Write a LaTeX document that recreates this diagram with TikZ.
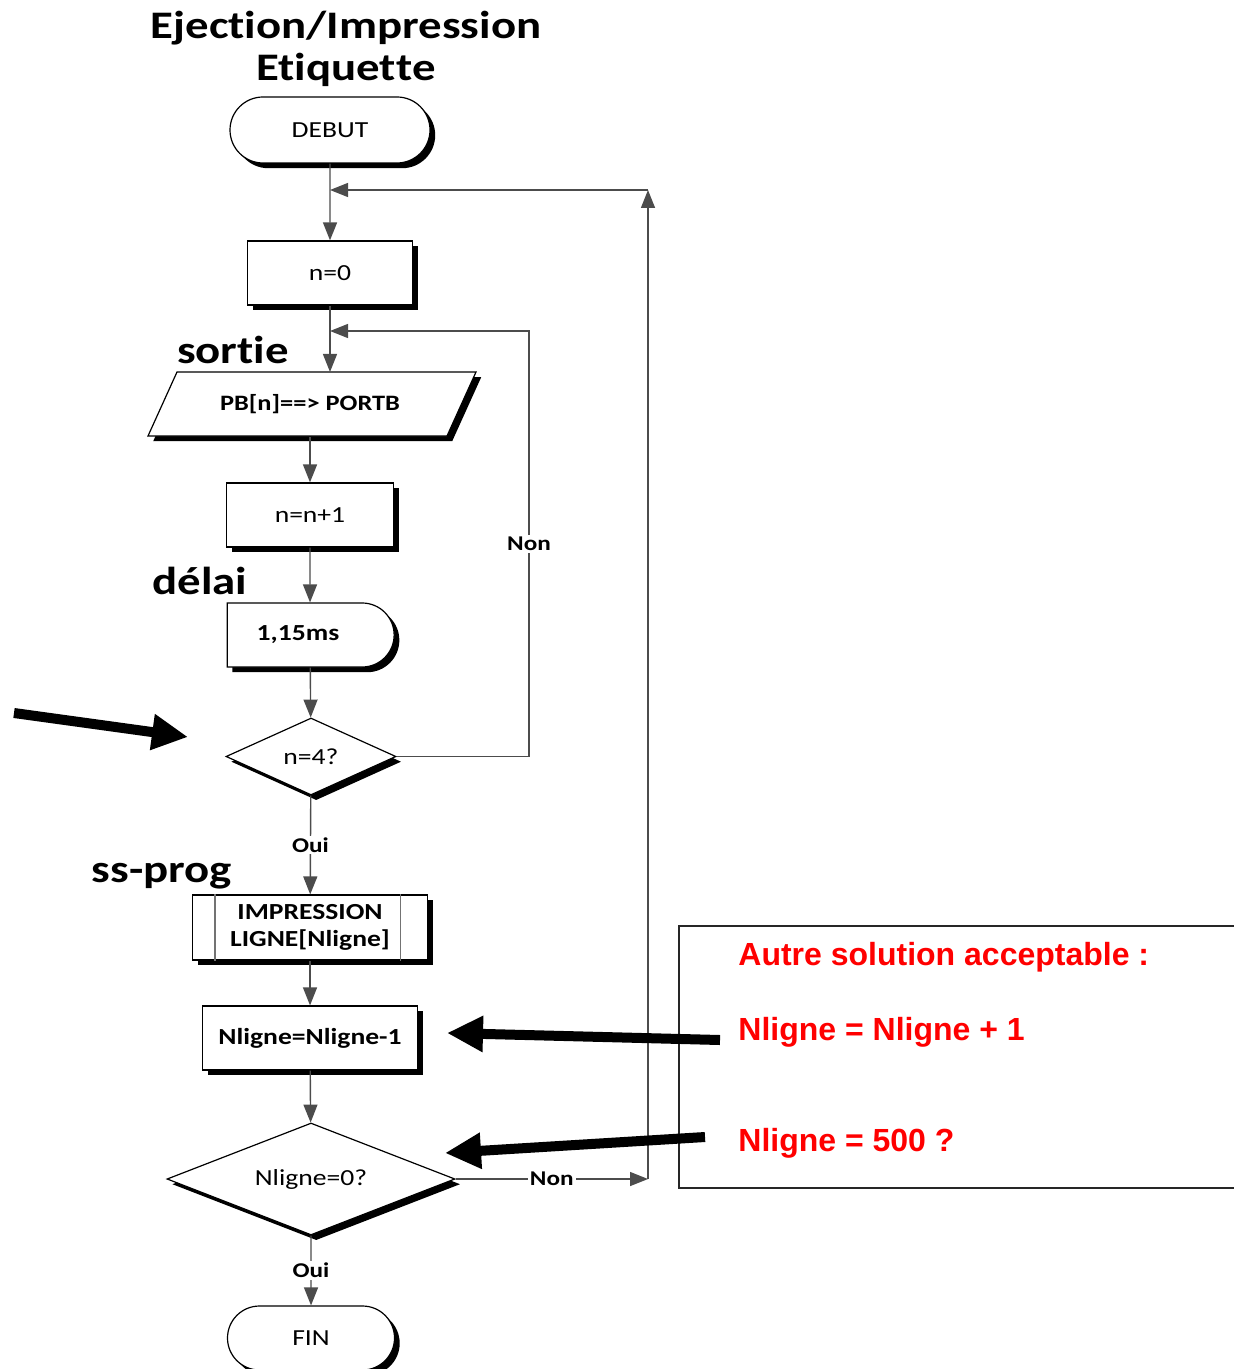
\documentclass[tikz,border=0pt]{standalone}
\usepackage{fontspec}
\setmainfont[Ligatures=NoCommon]{Carlito}
\newfontfamily\flowfont[FakeStretch=1.2,Ligatures=NoCommon]{Carlito}
\newfontfamily\redfont{Liberation Sans}
\usetikzlibrary{shapes.geometric,shapes.misc,shadows,arrows.meta}
\begin{document}
\begin{tikzpicture}[x=0.5pt,y=-0.5pt,
  shad/.style={drop shadow={shadow xshift=2.6pt,shadow yshift=-2.6pt,opacity=1,fill=black}},
  box/.style={draw=black,line width=0.6pt,fill=white,shad,inner sep=0pt,align=center,
    font=\flowfont\fontsize{11.5}{13.5}\selectfont},
  bbox/.style={box,font=\flowfont\bfseries\fontsize{11.5}{13.5}\selectfont},
  proc/.style={box,rectangle},
  term/.style={box,rounded rectangle},
  dec/.style={box,diamond},
  conn/.style={draw=black!70,line width=0.7pt,-{Triangle[length=9pt,width=7pt]}},
  flow/.style={draw=black!70,line width=0.7pt},
  lab/.style={font=\flowfont\bfseries\fontsize{19.5}{22}\selectfont},
  yn/.style={font=\flowfont\bfseries\fontsize{10.5}{12}\selectfont,fill=white,inner sep=1pt},
  bigarrow/.style={line width=5pt,-{Triangle[length=18pt,width=17pt]}},
  redtxt/.style={text=red,font=\redfont\bfseries\fontsize{16}{18}\selectfont,anchor=base west,inner sep=0pt}
]
\useasboundingbox (0,0) rectangle (1234,1369);

% titles
\node[lab] (ttl1) at (346,28) {Ejection/Impression};
\node[lab] (ttl2) at (346,70) {Et\kern0pt i\kern0pt q\kern0pt u\kern0pt e\kern0pt t\kern0pt t\kern0pt e};

% nodes
\node[term,minimum width=100pt,minimum height=33pt] (debut) at (330,130) {DEBUT};
\node[proc,minimum width=82.5pt,minimum height=32pt] (n0) at (330,273) {n=0};

\filldraw[fill=white,draw=black,line width=0.6pt,shad] (177,372) -- (476,372) -- (447,436) -- (148,436) -- cycle;
\node[font=\flowfont\bfseries\fontsize{11}{13}\selectfont] (pb) at (310,404) {PB[n]==> PORTB};
\coordinate (pbtop) at (330,372);
\coordinate (pbbot) at (310,437);

\node[proc,minimum width=83.5pt,minimum height=32pt] (nn1) at (310,515) {n=n+1};
\node[bbox,rounded rectangle,rounded rectangle left arc=none,minimum width=83.5pt,minimum height=32pt] (dl) at (310,635) {\hspace*{-12pt}1,15ms};
\node[dec,aspect=2.2,minimum width=85pt,minimum height=38.5pt] (n4) at (311,756.5) {n=4?};
\node[bbox,rectangle,minimum width=117.5pt,minimum height=32.5pt] (imp) at (310,927.5) {IMPRESSION\\LIGNE[Nligne]};
\draw[black!55,line width=0.6pt] ([xshift=11.5pt]imp.north west) -- ([xshift=11.5pt]imp.south west);
\draw[black!55,line width=0.6pt] ([xshift=-14pt]imp.north east) -- ([xshift=-14pt]imp.south east);
\node[bbox,rectangle,minimum width=107.5pt,minimum height=32pt] (nl) at (310,1038) {Nligne=Nligne-1};
\node[dec,aspect=2.57,minimum width=144pt,minimum height=56pt] (n0q) at (311,1179) {Nligne=0?};
\node[term,minimum width=83.5pt,minimum height=32pt] (fin) at (311,1338) {FIN};

% side labels
\node[lab] (lsortie) at (233,350) {sort\kern0pt ie};
\node[lab] (ldelai) at (200,581) {délai};
\node[lab] (lss) at (162,876) {ss-prog};

% loop coordinates
\coordinate (j1) at (330,331);
\coordinate (r1) at (529,756.5);
\coordinate (r1t) at (529,331);
\coordinate (j2) at (330,190);
\coordinate (r2) at (648,1179);
\coordinate (r2t) at (648,190);

% connectors
\draw[conn] (debut) -- (n0);
\draw[conn] (n0) -- (pbtop);
\draw[conn] (pbbot) -- (nn1);
\draw[conn] (nn1) -- (dl);
\draw[conn] (dl) -- (n4);
\draw[conn] (n4) -- node[yn] (oui1) {Oui} (imp);
\draw[conn] (imp) -- (nl);
\draw[conn] (nl) -- (n0q);
\draw[conn] (n0q) -- node[yn] (oui2) {Oui} (fin);
\draw[conn] (n4.east) -- (r1) -- node[yn] (non1) {Non} (r1t) -- (j1);
\draw[conn] (n0q.east) -- node[yn] (non2) {Non} (r2);
\draw[conn] (r2) -- (r2t);
\draw[conn] (r2t) -- (j2);

% right note box
\draw[black!85,line width=1pt] (1234,926) -- (679,926) -- (679,1188) -- (1234,1188);
\node[redtxt] (t1) at (738,965) {Autre solution acceptable :};
\node[redtxt] (t2) at (738,1040) {Nligne = Nligne + 1};
\node[redtxt] (t3) at (738,1151) {Nligne = 500 ?};

% thick pointer arrows
\coordinate (a1s) at (14,713);
\coordinate (a1e) at (188,737);
\coordinate (a2s) at (720,1040);
\coordinate (a2e) at (447,1033);
\coordinate (a3s) at (705,1137);
\coordinate (a3e) at (445,1153);
\draw[bigarrow] (a1s) -- (a1e);
\draw[bigarrow] (a2s) -- (a2e);
\draw[bigarrow] (a3s) -- (a3e);
\end{tikzpicture}
\end{document}
